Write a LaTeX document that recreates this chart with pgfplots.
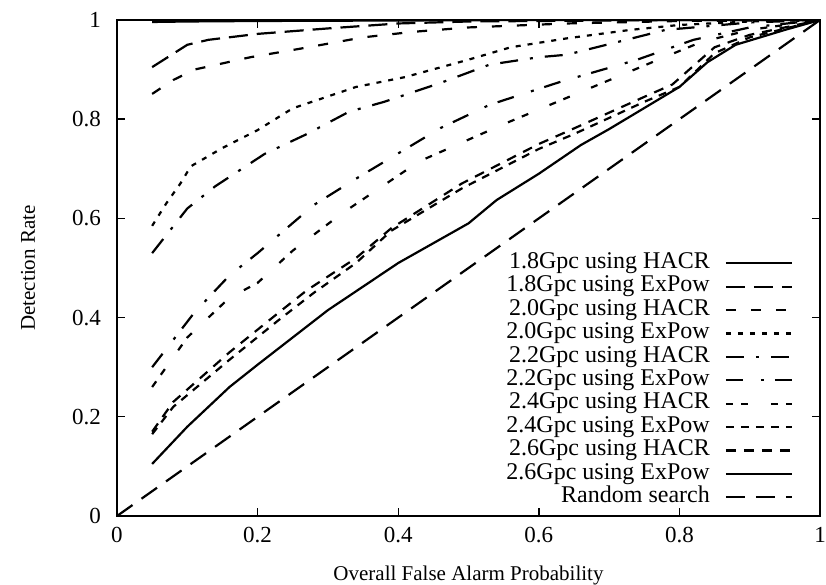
\documentclass[border=0pt]{standalone}
\usepackage{pgfplots}
\pgfplotsset{compat=1.18}
\usepackage{fontspec}
\setmainfont{Liberation Serif}
\begin{document}
\begin{tikzpicture}
\path[use as bounding box] (-117bp,-69bp) rectangle (709bp,516bp);
\begin{axis}[
  scale only axis,
  width=703bp, height=496bp,
  xmin=0, xmax=1, ymin=0, ymax=1,
  xtick={0,0.2,0.4,0.6,0.8,1},
  ytick={0,0.2,0.4,0.6,0.8,1},
  xticklabels={0,0.2,0.4,0.6,0.8,1},
  yticklabels={0,0.2,0.4,0.6,0.8,1},
  /pgf/number format/assume math mode=true,
  tick align=inside,
  major tick length=8bp,
  axis line style={line width=2bp},
  every tick/.style={line width=1.4bp, black},
  tick label style={font=\fontsize{23bp}{23bp}\selectfont},
  yticklabel style={inner sep=0pt, anchor=east, xshift=-16bp},
  xticklabel style={inner sep=0pt, anchor=north, yshift=-11bp},
  label style={font=\fontsize{21bp}{21bp}\selectfont},
  xlabel={Overall False Alarm Probability},
  ylabel={Detection Rate},
  xlabel style={at={(axis description cs:0.5,-0.119)}, anchor=center},
  ylabel style={at={(axis description cs:-0.1266,0.5)}, anchor=center},
  legend cell align=right,
  legend plot pos=right,
  legend style={draw=none, fill=none, inner sep=0pt, outer sep=0pt,
    at={(0.9616,0.014)}, anchor=south east,
    font=\fontsize{24bp}{24bp}\selectfont,
    row sep=0pt, column sep=15bp,
    nodes={inner sep=0pt, text height=16.8bp, text depth=6.6bp}},
  legend image code/.code={\draw[#1] (0bp,0bp) -- (66bp,0bp);},
  every axis plot/.append style={line width=2.2bp, black},
]
% 1.8Gpc HACR
\addplot[solid] coordinates {(0.05,0.996)(0.1,0.997)(0.2,0.998)(0.4,0.999)(0.6,1)(0.8,1)(1,1)};
\addlegendentry{1.8Gpc using HACR}
% 1.8Gpc ExPow
\addplot[dash pattern=on 19bp off 9bp] coordinates {(0.05,0.905)(0.1,0.95)(0.13,0.96)(0.2,0.972)(0.3,0.983)(0.4,0.993)(0.5,0.997)(0.6,0.998)(0.8,1)(1,1)};
\addlegendentry{1.8Gpc using ExPow}
% 2.0Gpc HACR
\addplot[dash pattern=on 10bp off 15bp] coordinates {(0.05,0.851)(0.08,0.879)(0.11,0.9)(0.19,0.925)(0.26,0.942)(0.35,0.965)(0.42,0.976)(0.5,0.985)(0.64,0.993)(0.8,0.998)(1,1)};
\addlegendentry{2.0Gpc using HACR}
% 2.0Gpc ExPow
\addplot[dash pattern=on 5bp off 7bp] coordinates {(0.05,0.585)(0.07,0.63)(0.09,0.67)(0.105,0.705)(0.15,0.742)(0.2,0.778)(0.25,0.822)(0.34,0.865)(0.41,0.885)(0.5,0.92)(0.56,0.945)(0.64,0.963)(0.73,0.98)(0.8,0.99)(0.9,0.997)(1,1)};
\addlegendentry{2.0Gpc using ExPow}
% 2.2Gpc HACR
\addplot[dash pattern=on 18bp off 12bp on 3bp off 12bp] coordinates {(0.05,0.53)(0.1,0.62)(0.14,0.665)(0.21,0.73)(0.27,0.77)(0.33,0.815)(0.38,0.835)(0.46,0.873)(0.53,0.91)(0.6,0.925)(0.64,0.93)(0.73,0.962)(0.78,0.98)(0.9,0.995)(1,1)};
\addlegendentry{2.2Gpc using HACR}
% 2.2Gpc ExPow
\addplot[dash pattern=on 17bp off 18bp on 3bp off 11bp] coordinates {(0.05,0.30)(0.11,0.41)(0.16,0.485)(0.2,0.53)(0.28,0.627)(0.34,0.68)(0.46,0.782)(0.53,0.829)(0.63,0.875)(0.74,0.92)(0.82,0.96)(0.9,0.985)(1,1)};
\addlegendentry{2.2Gpc using ExPow}
% 2.4Gpc HACR
\addplot[dash pattern=on 7bp off 8bp on 7bp off 23bp] coordinates {(0.05,0.26)(0.1,0.36)(0.16,0.44)(0.2,0.47)(0.25,0.535)(0.32,0.61)(0.43,0.715)(0.55,0.79)(0.66,0.855)(0.77,0.92)(0.83,0.955)(0.9,0.98)(1,1)};
\addlegendentry{2.4Gpc using HACR}
% 2.4Gpc ExPow
\addplot[dash pattern=on 8bp off 7bp] coordinates {(0.05,0.165)(0.08,0.22)(0.16,0.315)(0.23,0.395)(0.28,0.45)(0.34,0.51)(0.39,0.575)(0.49,0.66)(0.6,0.74)(0.65,0.77)(0.75,0.835)(0.8,0.865)(0.85,0.933)(0.9,0.965)(1,1)};
\addlegendentry{2.4Gpc using ExPow}
% 2.6Gpc HACR
\addplot[dash pattern=on 10bp off 8bp] coordinates {(0.05,0.17)(0.08,0.23)(0.16,0.33)(0.23,0.41)(0.27,0.455)(0.34,0.52)(0.39,0.58)(0.49,0.67)(0.6,0.75)(0.64,0.775)(0.75,0.845)(0.79,0.87)(0.85,0.945)(0.9,0.97)(1,1)};
\addlegendentry{2.6Gpc using HACR}
% 2.6Gpc ExPow
\addplot[solid] coordinates {(0.05,0.105)(0.1,0.18)(0.16,0.26)(0.2,0.305)(0.3,0.415)(0.4,0.51)(0.5,0.59)(0.54,0.637)(0.6,0.69)(0.66,0.748)(0.7,0.78)(0.8,0.865)(0.84,0.915)(0.88,0.95)(0.95,0.98)(1,1)};
\addlegendentry{2.6Gpc using ExPow}
% Random search
\addplot[dash pattern=on 19bp off 11bp] coordinates {(0,0)(1,1)};
\addlegendentry{Random search}
\end{axis}
\end{tikzpicture}
\end{document}
